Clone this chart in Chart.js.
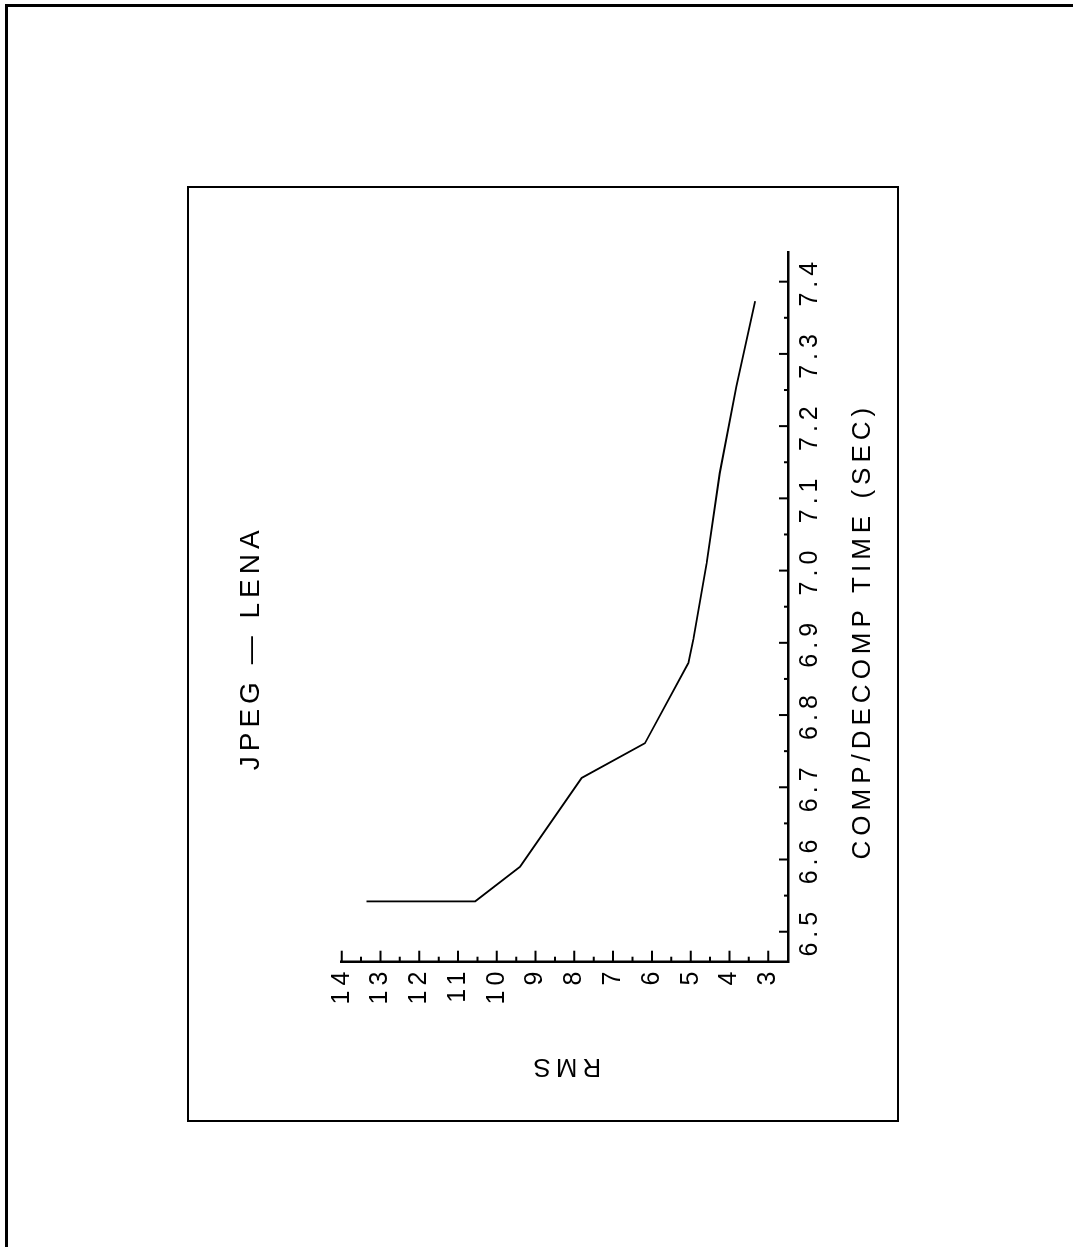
<!DOCTYPE html>
<html>
<head>
<meta charset="utf-8">
<script src="https://cdn.jsdelivr.net/npm/chart.js@4.4.0/dist/chart.umd.min.js"></script>
<style>
  html, body { margin: 0; padding: 0; background: #fff; }
  body { width: 1073px; height: 1247px; position: relative; overflow: hidden; }
  #page { position: absolute; left: 5px; top: 4px; width: 1100px; height: 1300px; border-left: 3px solid #000; border-top: 3px solid #000; }
  #frame { position: absolute; left: 187px; top: 186px; width: 708px; height: 932px; border: 2px solid #000; }
  #wrap { position: absolute; left: 76px; top: 299px; width: 934px; height: 710px; transform: rotate(-90deg); }
</style>
</head>
<body>
<div id="page"></div>
<div id="frame"></div>
<div id="wrap"><canvas id="rmsChart" width="934" height="710"></canvas></div>
<script>
// values (time in sec, RMS error)
var times = [6.542, 6.542, 6.590, 6.713, 6.761, 6.872, 6.905, 7.010, 7.135, 7.255, 7.373];
var rms = [13.36, 10.56, 9.40, 7.81, 6.18, 5.06, 4.93, 4.59, 4.25, 3.82, 3.34];

var timeTicks = [6.5, 6.6, 6.7, 6.8, 6.9, 7.0, 7.1, 7.2, 7.3, 7.4];
var rmsTicks = [3, 4, 5, 6, 7, 8, 9, 10, 11, 12, 13, 14];

var chartTitle = "JPEG \u2014 LENA";
var xTitle = "COMP/DECOMP TIME (SEC)";
var yTitle = "RMS";

var family = "'Liberation Sans', Arial, sans-serif";

var points = [];
for (var i = 0; i < times.length; i++) {
  points.push({ x: times[i], y: rms[i] });
}

// the old plotter font is wide, so spread the letters a bit
var spacing = {
  id: "spacing",
  beforeDraw: function (chart) {
    chart.ctx.letterSpacing = "5px";
  }
};

// tick marks point into the plot, majors plus half-step minors
var innerTicks = {
  id: "innerTicks",
  afterDatasetsDraw: function (chart) {
    var ctx = chart.ctx, xs = chart.scales.x, ys = chart.scales.y, a = chart.chartArea;
    ctx.save();
    ctx.strokeStyle = "#000";
    ctx.lineWidth = 2;
    ctx.beginPath();
    for (var i = 0; i < timeTicks.length; i++) {
      var px = xs.getPixelForValue(timeTicks[i]);
      ctx.moveTo(px, a.bottom);
      ctx.lineTo(px, a.bottom - 9);
      if (i < timeTicks.length - 1) {
        var pm = xs.getPixelForValue((timeTicks[i] + timeTicks[i + 1]) / 2);
        ctx.moveTo(pm, a.bottom);
        ctx.lineTo(pm, a.bottom - 4);
      }
    }
    for (var j = 0; j < rmsTicks.length; j++) {
      var py = ys.getPixelForValue(rmsTicks[j]);
      ctx.moveTo(a.left, py);
      ctx.lineTo(a.left + 11, py);
      if (j < rmsTicks.length - 1) {
        var qm = ys.getPixelForValue((rmsTicks[j] + rmsTicks[j + 1]) / 2);
        ctx.moveTo(a.left, qm);
        ctx.lineTo(a.left + 5, qm);
      }
    }
    ctx.stroke();
    ctx.restore();
  }
};

var ctx = document.getElementById("rmsChart").getContext("2d");
var myChart = new Chart(ctx, {
  type: "scatter",
  data: {
    datasets: [{
      label: "RMS",
      data: points,
      showLine: true,
      borderColor: "#000",
      borderWidth: 1.8,
      pointRadius: 0,
      fill: false,
      tension: 0
    }]
  },
  options: {
    responsive: false,
    animation: false,
    devicePixelRatio: 1,
    layout: { padding: { left: 77, top: 10, right: 64.7, bottom: 0 } },
    plugins: {
      legend: { display: false },
      tooltip: { enabled: false },
      title: {
        display: true,
        text: chartTitle,
        color: "#000",
        font: { family: family, size: 28, weight: "normal" },
        padding: { top: 36.7, bottom: 73.4 }
      }
    },
    scales: {
      x: {
        type: "linear",
        position: "bottom",
        min: 6.4585,
        max: 7.4415,
        afterBuildTicks: function (s) {
          s.ticks = timeTicks.map(function (v) { return { value: v }; });
        },
        afterFit: function (s) { s.height = 110; },
        grid: { display: false, drawTicks: false },
        border: { display: true, color: "#000", width: 2.5 },
        ticks: {
          color: "#000",
          font: { family: family, size: 25 },
          padding: 7,
          maxRotation: 0,
          autoSkip: false,
          callback: function (v) { return v.toFixed(1); }
        },
        title: {
          display: true,
          text: xTitle + "    ",
          color: "#000",
          font: { family: family, size: 26 },
          padding: { top: 0, bottom: 19.4 }
        }
      },
      y: {
        type: "linear",
        position: "left",
        min: 2.49,
        max: 14,
        afterBuildTicks: function (s) {
          s.ticks = rmsTicks.map(function (v) { return { value: v }; });
        },
        afterFit: function (s) { s.width = 82.3; },
        grid: { display: false, drawTicks: false },
        border: { display: true, color: "#000", width: 2.5 },
        ticks: {
          color: "#000",
          font: { family: family, size: 25 },
          padding: 5,
          autoSkip: false,
          callback: function (v) { return String(v); }
        },
        title: {
          display: true,
          text: yTitle,
          color: "#000",
          font: { family: family, size: 26 },
          padding: { top: -37.6, bottom: 0 }
        }
      }
    }
  },
  plugins: [spacing, innerTicks]
});
</script>
</body>
</html>
